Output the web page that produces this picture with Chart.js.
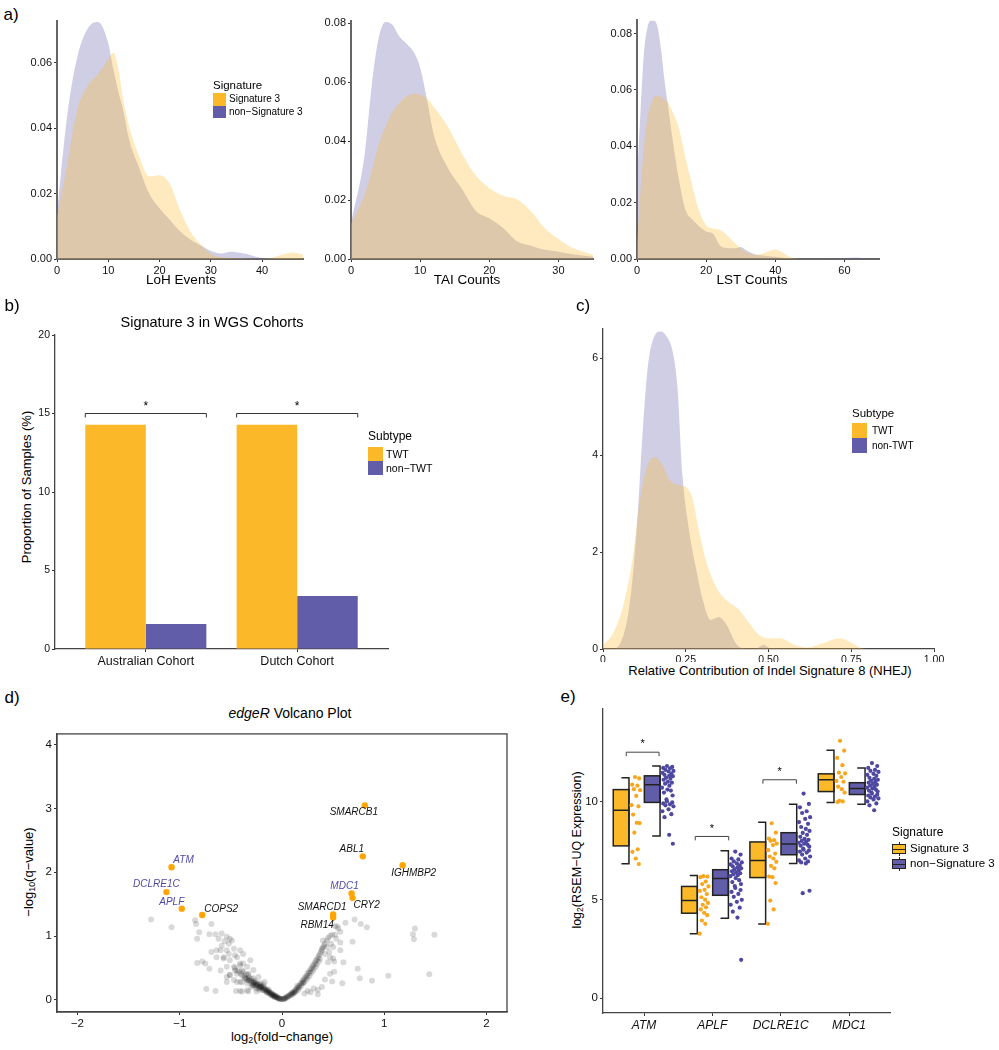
<!DOCTYPE html>
<html>
<head>
<meta charset="utf-8">
<script src="https://cdn.jsdelivr.net/npm/chart.js@4.4.1/dist/chart.umd.min.js"></script>
<style>
body { margin: 0; background: #fff; width: 999px; height: 1050px; position: relative; overflow: hidden; font-family: 'Liberation Sans', Arial, Helvetica, sans-serif; color: #000; }
.t { position: absolute; white-space: nowrap; line-height: 1; }
canvas { position: absolute; }
.sw { position: absolute; }
sub { font-size: 68%; vertical-align: -0.3em; line-height: 0; }
</style>
</head>
<body>
<script>
var FONT = "'Liberation Sans', Arial, Helvetica, sans-serif";
var ORANGE = '#FBB829';
var PURPLE = '#625DA8';
var ORANGE_FILL = 'rgba(251,184,41,0.3)';
var PURPLE_FILL = 'rgba(98,93,168,0.3)';
var DOT_ORANGE = '#F9A61C';
var DOT_PURPLE = '#4E48A2';
var BLUE_TXT = '#4F4AA8';

// ---- a) densities
var lohX = [0, 2, 4, 6, 8, 10, 11, 12, 13, 14, 16, 18, 20, 22, 24, 26, 28, 30, 32, 34, 36, 38, 40, 42, 44, 46, 48];
var lohSig3 = [0.013, 0.029, 0.046, 0.053, 0.0565, 0.061, 0.0632, 0.058, 0.048, 0.041, 0.0315, 0.0252, 0.0256, 0.023, 0.015, 0.0085, 0.0045, 0.0016, 0.0005, 0.0003, 0.0002, 0.0001, 0.0001, 0.0004, 0.0014, 0.002, 0.0014];
var lohNon = [0.014, 0.044, 0.062, 0.0705, 0.0725, 0.066, 0.058, 0.051, 0.045, 0.037, 0.028, 0.02, 0.0155, 0.012, 0.0085, 0.006, 0.0042, 0.0025, 0.0017, 0.0022, 0.0018, 0.0011, 0.0003, 0, 0, 0, 0];

var taiX = [0, 2, 3, 4, 5, 6, 7, 8, 9, 10, 11, 12, 14, 16, 18, 20, 22, 24, 26, 28, 30, 32, 35];
var taiSig3 = [0.012, 0.022, 0.030, 0.039, 0.045, 0.05, 0.053, 0.0552, 0.056, 0.0558, 0.0545, 0.0515, 0.045, 0.036, 0.0285, 0.024, 0.0215, 0.0203, 0.0163, 0.0105, 0.0068, 0.0038, 0.0015];
var taiNon = [0.012, 0.036, 0.059, 0.075, 0.0805, 0.0795, 0.0755, 0.0732, 0.0705, 0.065, 0.054, 0.042, 0.031, 0.024, 0.0165, 0.0138, 0.0105, 0.006, 0.0045, 0.0031, 0.0025, 0.0016, 0.0008];

var lstX = [0, 1, 2, 3, 4, 5, 6, 7, 8, 9, 10, 12, 14, 16, 18, 20, 22, 24, 26, 28, 30, 32, 34, 36, 38, 40, 42, 44, 46, 50, 55, 60, 63, 66, 70];
var lstSig3 = [0.005, 0.024, 0.04, 0.05, 0.055, 0.0575, 0.058, 0.0575, 0.0565, 0.0555, 0.053, 0.047, 0.036, 0.026, 0.017, 0.012, 0.0108, 0.0103, 0.0085, 0.006, 0.0038, 0.0022, 0.0014, 0.0018, 0.0027, 0.0034, 0.0024, 0.0008, 0.0001, 0, 0, 0, 0, 0, 0];
var lstNon = [0.028, 0.052, 0.073, 0.082, 0.0845, 0.0845, 0.082, 0.074, 0.063, 0.054, 0.045, 0.029, 0.0175, 0.014, 0.0115, 0.0098, 0.009, 0.0048, 0.0039, 0.0038, 0.0043, 0.0028, 0.0017, 0.0013, 0.001, 0.0008, 0.0004, 0.0002, 0.0001, 0, 0, 0.0003, 0.0005, 0.0002, 0];

// ---- b) bars
var cohorts = ['Australian Cohort', 'Dutch Cohort'];
var twtPct = [14.29, 14.29];
var nonTwtPct = [1.59, 3.37];

// ---- c) indel signature 8 density
var indelTwtX = [0, 0.03, 0.06, 0.09, 0.11, 0.13, 0.155, 0.18, 0.2, 0.225, 0.25, 0.27, 0.29, 0.31, 0.34, 0.37, 0.41, 0.44, 0.47, 0.5, 0.535, 0.575, 0.615, 0.665, 0.715, 0.745, 0.785, 0.81];
var indelTwtY = [0.08, 0.32, 0.87, 1.9, 3.0, 3.7, 3.96, 3.8, 3.5, 3.38, 3.34, 3.12, 2.44, 1.85, 1.3, 1.02, 0.82, 0.55, 0.3, 0.22, 0.22, 0.1, 0.03, 0.12, 0.22, 0.15, 0.01, 0];
var indelNonX = [0, 0.03, 0.07, 0.09, 0.105, 0.12, 0.135, 0.155, 0.175, 0.195, 0.21, 0.225, 0.24, 0.26, 0.28, 0.3, 0.325, 0.35, 0.375, 0.4, 0.42, 0.46, 0.485, 0.51, 0.55];
var indelNonY = [0, 0, 0.5, 1.5, 2.8, 4.5, 5.8, 6.45, 6.55, 6.42, 6.15, 5.4, 3.6, 2.45, 1.7, 1.05, 0.6, 0.66, 0.48, 0.13, 0.02, 0, 0.09, 0, 0];

// ---- d) volcano
var hlGenes = ['SMARCB1', 'ABL1', 'IGHMBP2', 'ATM', 'DCLRE1C', 'APLF', 'COPS2', 'MDC1', 'CRY2', 'SMARCD1', 'RBM14'];
var hlFC = [0.81, 0.79, 1.18, -1.08, -1.13, -0.98, -0.78, 0.68, 0.69, 0.50, 0.50];
var hlQ = [3.05, 2.25, 2.11, 2.08, 1.69, 1.43, 1.33, 1.67, 1.60, 1.34, 1.29];
var blueGenes = ['ATM', 'DCLRE1C', 'APLF', 'MDC1'];
var greyGenes = [
  [-1.28,1.26],[-1.08,1.14],[-0.85,1.25],[-0.84,1.19],[-0.81,1.06],[-0.83,0.96],[-0.69,1.19],[-0.71,1.03],[-0.65,1.03],[-0.59,1.04],
  [-0.54,0.99],[-0.51,0.96],[-0.69,0.75],[-0.64,0.78],[-0.59,0.85],[-0.52,0.88],[-0.49,0.93],[-0.41,0.78],[-0.46,0.7],[-0.52,0.72],
  [-0.57,0.65],[-0.83,0.58],[-0.78,0.6],[-0.75,0.57],[-0.71,0.49],[-0.74,0.17],[-0.65,0.14],[-0.6,0.46],[-0.54,0.36],[-0.51,0.39],
  [-0.46,0.46],[-0.41,0.54],[-0.39,0.46],[-0.36,0.34],[-0.33,0.39],[-0.44,0.28],[-0.39,0.28],[-0.34,0.26],[-0.29,0.23],[-0.26,0.28],
  [-0.25,0.18],[-0.22,0.16],[-0.21,0.26],[-0.15,0.15],[-0.34,0.15],[-0.45,0.14],[-0.41,0.14],[-0.17,0.28],[-0.38,0.57],[-0.31,0.62],
  [-0.6,0.78],[-0.54,0.78],[-0.47,0.8],[-0.64,0.67],[-0.57,0.67],[-0.51,0.62],[-0.44,0.67],[-0.38,0.72],[-0.54,0.52],[-0.47,0.52],
  [-0.41,0.57],[-0.34,0.52],[-0.51,0.39],[-0.44,0.41],[-0.38,0.44],[-0.33,0.41],[-0.28,0.47],[-0.54,0.28],[-0.47,0.31],[-0.41,0.28],
  [-0.34,0.31],[-0.28,0.34],[-0.23,0.36],[-0.39,0.13],[-0.33,0.13],[-0.25,0.13],[-0.3,0.2],[-0.28,0.23],[-0.21,0.21],[-0.18,0.24],
  [-0.13,0.16],[-0.62,0.96],[-0.56,0.92],
  [-0.46,0.5],[-0.44,0.46],[-0.42,0.44],[-0.4,0.41],[-0.39,0.38],[-0.37,0.37],[-0.36,0.34],[-0.34,0.33],[-0.33,0.3],[-0.31,0.3],
  [-0.3,0.27],[-0.29,0.29],[-0.28,0.25],[-0.27,0.27],[-0.26,0.24],[-0.25,0.25],[-0.24,0.22],[-0.23,0.23],[-0.22,0.2],[-0.21,0.2],
  [-0.2,0.18],[-0.19,0.19],[-0.18,0.16],[-0.17,0.16],[-0.16,0.14],[-0.15,0.13],[-0.14,0.12],[-0.13,0.11],[-0.12,0.1],[-0.11,0.09],
  [-0.1,0.08],[-0.09,0.07],[-0.08,0.06],[-0.07,0.05],[-0.06,0.045],[-0.05,0.04],[-0.04,0.03],[-0.03,0.025],[-0.02,0.02],[-0.01,0.015],
  [0,0.01],[-0.35,0.4],[-0.32,0.35],[-0.3,0.33],[-0.27,0.3],[-0.24,0.26],[-0.22,0.24],[-0.2,0.22],[-0.18,0.2],[-0.16,0.17],
  [-0.14,0.15],[-0.12,0.12],[-0.1,0.1],[-0.08,0.08],[-0.06,0.06],[-0.26,0.21],[-0.23,0.18],[-0.19,0.15],[-0.15,0.11],[-0.11,0.08],
  [-0.13,0.13],[-0.11,0.11],[-0.09,0.09],[-0.07,0.07],[-0.05,0.05],[-0.03,0.03],[-0.02,0.01],[-0.09,0.06],[-0.07,0.04],[-0.04,0.02],
  [-0.2,0.2],[-0.17,0.18],[-0.25,0.23],[-0.28,0.27],[-0.32,0.31],
  [0.01,0.015],[0.02,0.02],[0.03,0.03],[0.04,0.04],[0.05,0.05],[0.06,0.06],[0.07,0.07],[0.08,0.085],[0.09,0.1],[0.1,0.11],
  [0.11,0.12],[0.12,0.14],[0.13,0.15],[0.14,0.17],[0.15,0.19],[0.16,0.2],[0.17,0.22],[0.18,0.25],[0.19,0.27],[0.2,0.3],
  [0.21,0.31],[0.22,0.34],[0.23,0.36],[0.24,0.38],[0.25,0.41],[0.26,0.43],[0.27,0.45],[0.28,0.48],[0.29,0.5],[0.3,0.53],
  [0.31,0.55],[0.32,0.58],[0.33,0.61],[0.34,0.63],[0.35,0.66],[0.36,0.69],[0.37,0.72],[0.38,0.75],[0.39,0.78],[0.4,0.82],
  [0.41,0.85],[0.42,0.88],[0.44,0.93],[0.45,0.97],[0.47,1.0],[0.1,0.08],[0.13,0.12],[0.16,0.16],[0.19,0.22],[0.22,0.28],
  [0.25,0.35],[0.28,0.42],[0.31,0.49],[0.34,0.56],[0.37,0.64],[0.15,0.22],[0.2,0.26],[0.24,0.32],[0.27,0.38],[0.3,0.45],
  [0.33,0.52],[0.36,0.6],
  [0.02,0.01],[0.03,0.02],[0.05,0.035],[0.07,0.055],[0.09,0.08],[0.11,0.1],[0.12,0.11],[0.14,0.14],[0.17,0.19],[0.21,0.27],
  [0.71,1.26],[0.77,1.19],[0.83,1.14],[0.62,1.21],[0.54,1.15],[0.57,1.07],[0.52,1.02],[0.49,1.02],[0.69,0.91],[0.57,0.9],
  [0.57,0.78],[0.6,0.59],[0.74,0.49],[0.76,0.34],[0.88,0.3],[1.04,0.38],[1.44,0.4],[1.3,1.12],[1.28,1.03],[1.29,0.95],
  [1.49,1.02],[0.59,0.26],[0.51,0.44],[0.47,0.41],[0.42,0.32],[0.49,0.29],[0.39,0.2],[0.35,0.16],[0.35,0.09],[0.51,0.6],
  [0.47,0.67],[0.42,0.72],[0.39,0.8],[0.44,0.83],[0.4,0.93],[0.52,1.16],[0.53,0.96],[0.5,0.83],[0.5,0.65],[0.45,0.59],
  [0.31,0.18],[0.28,0.12],[0.22,0.1],[0.25,0.14],[0.55,1.12],[0.48,0.88],[0.46,0.75]
];

// ---- e) expression boxes: [lower whisker, q1, median, q3, upper whisker]
var genes = ['ATM', 'APLF', 'DCLRE1C', 'MDC1'];
var sig3Box = [[6.83, 7.74, 9.55, 10.6, 11.2], [3.27, 4.32, 4.97, 5.68, 6.23], [3.77, 6.13, 7.0, 7.94, 8.94], [9.95, 10.5, 11.1, 11.4, 12.6]];
var nonSig3Box = [[8.24, 9.95, 10.85, 11.3, 11.8], [4.07, 5.23, 6.08, 6.53, 7.49], [6.85, 7.29, 7.84, 8.41, 9.86], [9.85, 10.35, 10.65, 10.95, 11.7]];
var sig3Expr = [
  [11.24, 11.17, 10.85, 10.8, 10.62, 10.57, 10.28, 9.81, 9.75, 9.33, 8.91, 8.9, 8.41, 7.57, 7.44, 7.1, 6.82],
  [6.2, 6.18, 6.15, 5.93, 5.8, 5.68, 5.51, 5.45, 5.29, 5.13, 5.01, 4.84, 4.75, 4.62, 4.51, 4.34, 4.22, 3.95, 3.78, 3.28],
  [8.89, 8.41, 8.11, 8.03, 8.0, 7.86, 7.78, 7.52, 7.35, 7.2, 7.1, 6.93, 6.72, 6.6, 6.18, 6.15, 5.85, 4.96, 4.51, 3.78],
  [13.08, 12.58, 12.21, 11.84, 11.46, 11.42, 11.24, 11.04, 11.0, 10.75, 10.62, 10.45, 10.03, 10.0, 9.97]
];
var nonSig3Expr = [
  [11.8, 11.75, 11.7, 11.68, 11.6, 11.55, 11.52, 11.45, 11.4, 11.35, 11.3, 11.28, 11.2, 11.15, 11.1, 11.0, 10.95, 10.9, 10.8, 10.7, 10.6, 10.55, 10.45, 10.3, 10.1, 10.0, 9.95, 9.9, 9.85, 9.8, 9.75, 9.6, 9.5, 9.35, 9.2, 8.3, 7.85],
  [7.45, 7.3, 7.1, 7.05, 6.95, 6.9, 6.85, 6.8, 6.75, 6.7, 6.65, 6.6, 6.55, 6.5, 6.45, 6.4, 6.35, 6.3, 6.25, 6.2, 6.1, 6.0, 5.9, 5.8, 5.7, 5.6, 5.5, 5.4, 5.3, 5.15, 5.0, 4.9, 4.75, 4.6, 4.4, 4.1, 1.95],
  [10.4, 9.87, 9.7, 9.5, 9.41, 9.2, 9.11, 8.95, 8.86, 8.7, 8.6, 8.5, 8.4, 8.3, 8.2, 8.1, 8.05, 8.0, 7.95, 7.9, 7.85, 7.8, 7.75, 7.7, 7.6, 7.55, 7.5, 7.45, 7.4, 7.3, 7.2, 7.1, 7.0, 6.95, 6.9, 6.85, 5.46, 5.34],
  [11.95, 11.8, 11.7, 11.6, 11.55, 11.5, 11.4, 11.35, 11.3, 11.2, 11.15, 11.1, 11.05, 11.0, 10.95, 10.9, 10.85, 10.8, 10.75, 10.7, 10.65, 10.6, 10.55, 10.5, 10.45, 10.4, 10.35, 10.3, 10.25, 10.2, 10.15, 10.1, 10.0, 9.9, 9.8, 9.55]
];
var jitterFrac = [0.42, 0.85, 0.12, 0.67, 0.3, 0.95, 0.55, 0.05, 0.78, 0.22, 0.6, 0.9, 0.35, 0.7, 0.15, 0.5, 0.82, 0.27, 0.62, 0.02, 0.46, 0.74, 0.18, 0.88, 0.38];

// ---------- helpers
function txt(s, x, y, size, opt) {
  opt = opt || {};
  var d = document.createElement('div');
  d.className = 't';
  d.innerHTML = s;
  d.style.fontSize = size + 'px';
  d.style.left = x + 'px';
  d.style.top = y + 'px';
  if (opt.italic) d.style.fontStyle = 'italic';
  if (opt.color) d.style.color = opt.color;
  var tx = opt.align == 'left' ? '0' : '-50%';
  d.style.transform = 'translate(' + tx + ',-50%)' + (opt.rot ? ' rotate(-90deg)' : '');
  document.body.appendChild(d);
  return d;
}

function swatch(x, y, w, h, color) {
  var d = document.createElement('div');
  d.className = 'sw';
  d.style.cssText = 'left:' + x + 'px;top:' + y + 'px;width:' + w + 'px;height:' + h + 'px;background:' + color;
  document.body.appendChild(d);
}

function boxKey(x, cy, color) {
  var w = document.createElement('div');
  w.className = 'sw';
  w.style.cssText = 'left:' + x + 'px;top:' + (cy - 7) + 'px;width:14px;height:14px';
  w.innerHTML = '<div style="position:absolute;left:6.5px;top:0;width:1.3px;height:14px;background:#222"></div>' +
    '<div style="position:absolute;left:0;top:2px;width:11.5px;height:7.5px;border:1.3px solid #222;background:' + color + '"></div>' +
    '<div style="position:absolute;left:0;top:6.5px;width:14px;height:1.3px;background:#222"></div>';
  document.body.appendChild(w);
}

function panel(L, T, R, B, plot) {
  var c = document.createElement('canvas');
  c.width = R - L;
  c.height = B - T;
  c.style.left = L + 'px';
  c.style.top = T + 'px';
  c.style.width = (R - L) + 'px';
  c.style.height = (B - T) + 'px';
  document.body.appendChild(c);
  return { canvas: c, L: L, T: T, pad: { top: plot.t - T, right: R - plot.r, left: 0, bottom: 0 }, yW: plot.l - L, xH: B - plot.b };
}

function scale(axis, p, o) {
  return {
    type: 'linear', min: o.min, max: o.max, offset: false,
    afterFit: function (s) { if (axis == 'x') s.height = p.xH; else s.width = p.yW; },
    afterBuildTicks: function (s) { if (o.ticksAt) s.ticks = o.ticksAt.map(function (v) { return { value: v }; }); },
    border: { display: true, color: o.lineColor || '#444', width: o.lineWidth || 1.3 },
    grid: { display: true, drawOnChartArea: false, drawTicks: true, tickLength: 3, tickWidth: 1, color: '#333', offset: false },
    ticks: {
      stepSize: o.step, includeBounds: false, autoSkip: false, maxRotation: 0, minRotation: 0, padding: 2, color: '#111',
      font: { family: FONT, size: o.fontSize || 11, style: o.italic ? 'italic' : 'normal' },
      callback: o.cb || function (v) { return '' + v; }
    }
  };
}

function pts(xs, ys) { return xs.map(function (x, i) { return { x: x, y: ys[i] }; }); }

function baseOptions(p, sx, sy) {
  return {
    responsive: false, animation: false, events: [],
    layout: { padding: p.pad },
    plugins: { legend: { display: false }, tooltip: { enabled: false } },
    scales: { x: sx, y: sy }
  };
}

function densityChart(p, xs1, ys1, xs2, ys2, xo, yo) {
  return new Chart(p.canvas, {
    type: 'line',
    data: {
      datasets: [
        { data: pts(xs1, ys1), fill: 'origin', backgroundColor: ORANGE_FILL, borderColor: 'rgba(0,0,0,0)', borderWidth: 0, pointRadius: 0, cubicInterpolationMode: 'monotone' },
        { data: pts(xs2, ys2), fill: 'origin', backgroundColor: PURPLE_FILL, borderColor: 'rgba(0,0,0,0)', borderWidth: 0, pointRadius: 0, cubicInterpolationMode: 'monotone' }
      ]
    },
    options: baseOptions(p, scale('x', p, xo), scale('y', p, yo))
  });
}

function fmt2(v) { return v.toFixed(2); }
function minus(v) { return v < 0 ? '\u2212' + Math.abs(v) : '' + v; }

// ---------- a)
txt('a)', 11, 14, 17);
var pa1 = panel(0, 10, 320, 275, { l: 57, t: 21, r: 303, b: 259 });
densityChart(pa1, lohX, lohSig3, lohX, lohNon,
  { min: 0, max: 48, step: 10, lineColor: '#666', lineWidth: 2 },
  { min: 0, max: 0.0728, step: 0.02, cb: fmt2, lineColor: '#666', lineWidth: 2 });
txt('LoH Events', 181, 280, 13.5);
txt('Signature', 213, 86, 11.5, { align: 'left' });
swatch(213, 93, 13, 13, ORANGE);
swatch(213, 106, 13, 12, PURPLE);
txt('Signature 3', 229, 99, 10, { align: 'left' });
txt('non\u2212Signature 3', 229, 111.5, 10, { align: 'left' });

var pa2 = panel(320, 10, 610, 275, { l: 351, t: 21, r: 593, b: 259 });
densityChart(pa2, taiX, taiSig3, taiX, taiNon,
  { min: 0, max: 35, step: 10, lineColor: '#666', lineWidth: 2 },
  { min: 0, max: 0.0808, step: 0.02, cb: fmt2, lineColor: '#666', lineWidth: 2 });
txt('TAI Counts', 467, 280, 13.5);

var pa3 = panel(610, 10, 900, 275, { l: 637, t: 20, r: 879, b: 259 });
densityChart(pa3, lstX, lstSig3, lstX, lstNon,
  { min: 0, max: 70, step: 20, lineColor: '#666', lineWidth: 2 },
  { min: 0, max: 0.0848, step: 0.02, cb: fmt2, lineColor: '#666', lineWidth: 2 });
txt('LST Counts', 752, 280, 13.5);

// ---------- b)
txt('b)', 12, 305, 17);
txt('Signature 3 in WGS Cohorts', 212, 322, 14.5);
txt('Proportion of Samples (%)', 26, 487, 13, { rot: true });
var sigBracketsB = [[0.6, 1.4], [1.6, 2.4]];
var pb = panel(0, 325, 400, 670, { l: 55, t: 335, r: 388, b: 649 });
new Chart(pb.canvas, {
  type: 'bar',
  data: {
    datasets: [
      { label: 'TWT', data: pts([1, 2], twtPct), backgroundColor: ORANGE, categoryPercentage: 0.8, barPercentage: 1.0 },
      { label: 'non\u2212TWT', data: pts([1, 2], nonTwtPct), backgroundColor: PURPLE, categoryPercentage: 0.8, barPercentage: 1.0 }
    ]
  },
  options: baseOptions(pb,
    scale('x', pb, { min: 0.4, max: 2.6, ticksAt: [1, 2], fontSize: 12.5, cb: function (v) { return cohorts[Math.round(v) - 1]; } }),
    scale('y', pb, { min: 0, max: 20, step: 5, fontSize: 10.5 })),
  plugins: [{
    id: 'bracketsB',
    afterDraw: function (chart) {
      var ctx = chart.ctx, xs = chart.scales.x, ys = chart.scales.y;
      ctx.save();
      ctx.strokeStyle = '#333';
      ctx.lineWidth = 1;
      sigBracketsB.forEach(function (b) {
        var x0 = xs.getPixelForValue(b[0]), x1 = xs.getPixelForValue(b[1]);
        var y = ys.getPixelForValue(15), yl = ys.getPixelForValue(14.75);
        ctx.beginPath();
        ctx.moveTo(x0, yl); ctx.lineTo(x0, y); ctx.lineTo(x1, y); ctx.lineTo(x1, yl);
        ctx.stroke();
        if (!chart.$stars) txt('*', pb.L + (x0 + x1) / 2, pb.T + ys.getPixelForValue(15.45), 12);
      });
      chart.$stars = true;
      ctx.restore();
    }
  }]
});
txt('Subtype', 368, 436, 12, { align: 'left' });
swatch(368, 447, 15, 14, ORANGE);
swatch(368, 461, 15, 14, PURPLE);
txt('TWT', 386, 454, 10.5, { align: 'left' });
txt('non\u2212TWT', 386, 468, 10.5, { align: 'left' });

// ---------- c)
txt('c)', 583, 305, 17);
var pc = panel(580, 320, 950, 662, { l: 603, t: 329, r: 934, b: 649 });
densityChart(pc, indelTwtX, indelTwtY, indelNonX, indelNonY,
  { min: 0, max: 1, step: 0.25, fontSize: 10.5, cb: function (v) { return v == 0 ? '0' : v.toFixed(2); } },
  { min: 0, max: 6.6, step: 2, fontSize: 10.5 });
txt('Relative Contribution of Indel Signature 8 (NHEJ)', 770, 670, 13);
txt('Subtype', 852, 414, 11.5, { align: 'left' });
swatch(852, 423, 15, 15, ORANGE);
swatch(852, 438, 15, 15, PURPLE);
txt('TWT', 872, 431, 10, { align: 'left' });
txt('non-TWT', 872, 446, 10, { align: 'left' });

// ---------- d)
txt('d)', 12, 697, 17);
txt('<i>edgeR</i> Volcano Plot', 290, 713, 14);
txt('\u2212log<sub>10</sub>(q\u2212value)', 28, 872, 13, { rot: true });
txt('log<sub>2</sub>(fold\u2212change)', 282, 1036, 13);
var hlLabelOffset = {
  SMARCB1: [-11, 7], ABL1: [-11, -7], IGHMBP2: [11, 8], ATM: [12, -7], DCLRE1C: [-10, -8], APLF: [-10, -7],
  COPS2: [19, -6], MDC1: [-7, -7], CRY2: [14, 7], SMARCD1: [-11, -7], RBM14: [-16, 7]
};
var pd = panel(0, 725, 520, 1030, { l: 57, t: 731, r: 507, b: 1012 });
new Chart(pd.canvas, {
  type: 'scatter',
  data: {
    datasets: [
      { data: pts(hlFC, hlQ), backgroundColor: '#FFA500', borderWidth: 0, pointRadius: 3.2 },
      { data: greyGenes.map(function (g) { return { x: g[0], y: g[1] }; }), backgroundColor: 'rgba(0,0,0,0.15)', borderWidth: 0, pointRadius: 3 }
    ]
  },
  options: baseOptions(pd,
    scale('x', pd, { min: -2.2, max: 2.2, step: 1, cb: minus, fontSize: 11.5 }),
    scale('y', pd, { min: -0.19, max: 4.17, step: 1, cb: minus, fontSize: 11.5 })),
  plugins: [{
    id: 'frameAndLabels',
    afterDraw: function (chart) {
      var a = chart.chartArea, ctx = chart.ctx;
      ctx.save();
      ctx.strokeStyle = '#444';
      ctx.lineWidth = 1.3;
      ctx.strokeRect(a.left, a.top, a.right - a.left, a.bottom - a.top);
      ctx.restore();
      if (chart.$labelled) return;
      chart.$labelled = true;
      var xs = chart.scales.x, ys = chart.scales.y;
      hlGenes.forEach(function (g, i) {
        var off = hlLabelOffset[g];
        txt(g, pd.L + xs.getPixelForValue(hlFC[i]) + off[0], pd.T + ys.getPixelForValue(hlQ[i]) + off[1], 10,
          { italic: true, color: blueGenes.indexOf(g) >= 0 ? BLUE_TXT : '#111' });
      });
    }
  }]
});

// ---------- e)
txt('e)', 568, 696, 17);
txt('log<sub>2</sub>(RSEM\u2212UQ Expression)', 577, 850, 12.5, { rot: true });
var groupLayout = {
  sig3: { x0: -0.45, x1: -0.22, cap: -0.33, p0: -0.19, pw: 0.14, fill: ORANGE },
  non: { x0: 0.005, x1: 0.235, cap: 0.12, p0: 0.26, pw: 0.18, fill: PURPLE }
};
var sigBracketsE = [[1, -0.26, 0.22, 12.5], [2, -0.25, 0.24, 8.22], [3, -0.26, 0.23, 11.1]];
function jittered(expr, lay) {
  var out = [];
  expr.forEach(function (vals, gi) {
    vals.forEach(function (v, k) {
      out.push({ x: gi + 1 + lay.p0 + jitterFrac[k % jitterFrac.length] * lay.pw, y: v });
    });
  });
  return out;
}
var pe = panel(560, 700, 895, 1035, { l: 603, t: 705, r: 890, b: 1013 });
new Chart(pe.canvas, {
  type: 'scatter',
  data: {
    datasets: [
      { data: jittered(sig3Expr, groupLayout.sig3), backgroundColor: DOT_ORANGE, borderWidth: 0, pointRadius: 2.1 },
      { data: jittered(nonSig3Expr, groupLayout.non), backgroundColor: DOT_PURPLE, borderWidth: 0, pointRadius: 2.1 }
    ]
  },
  options: baseOptions(pe,
    scale('x', pe, { min: 0.4, max: 4.6, ticksAt: [1, 2, 3, 4], italic: true, fontSize: 12, cb: function (v) { return genes[Math.round(v) - 1]; } }),
    scale('y', pe, { min: -0.75, max: 14.7, step: 5, fontSize: 11.5 })),
  plugins: [{
    id: 'boxes',
    beforeDatasetsDraw: function (chart) {
      var ctx = chart.ctx, xs = chart.scales.x, ys = chart.scales.y;
      ctx.save();
      ctx.strokeStyle = '#222';
      ctx.lineWidth = 1.5;
      [[sig3Box, groupLayout.sig3], [nonSig3Box, groupLayout.non]].forEach(function (pair) {
        var lay = pair[1];
        pair[0].forEach(function (s, gi) {
          var c = gi + 1;
          var xa = xs.getPixelForValue(c + lay.x0), xb = xs.getPixelForValue(c + lay.x1), xc = xs.getPixelForValue(c + lay.cap);
          var yLo = ys.getPixelForValue(s[0]), yQ1 = ys.getPixelForValue(s[1]), yMed = ys.getPixelForValue(s[2]);
          var yQ3 = ys.getPixelForValue(s[3]), yHi = ys.getPixelForValue(s[4]);
          ctx.fillStyle = lay.fill;
          ctx.fillRect(xa, yQ3, xb - xa, yQ1 - yQ3);
          ctx.strokeRect(xa, yQ3, xb - xa, yQ1 - yQ3);
          ctx.beginPath();
          ctx.moveTo(xa, yMed); ctx.lineTo(xb, yMed);
          ctx.moveTo(xc, yHi); ctx.lineTo(xb, yHi); ctx.lineTo(xb, yLo); ctx.lineTo(xc, yLo);
          ctx.stroke();
        });
      });
      ctx.strokeStyle = '#444';
      ctx.lineWidth = 1;
      sigBracketsE.forEach(function (b) {
        var x0 = xs.getPixelForValue(b[0] + b[1]), x1 = xs.getPixelForValue(b[0] + b[2]);
        var y = ys.getPixelForValue(b[3]), yl = ys.getPixelForValue(b[3] - 0.2);
        ctx.beginPath();
        ctx.moveTo(x0, yl); ctx.lineTo(x0, y); ctx.lineTo(x1, y); ctx.lineTo(x1, yl);
        ctx.stroke();
        if (!chart.$stars) txt('*', pe.L + (x0 + x1) / 2, pe.T + ys.getPixelForValue(b[3] + 0.45), 11);
      });
      chart.$stars = true;
      ctx.restore();
    }
  }]
});
txt('Signature', 892, 832, 12, { align: 'left' });
boxKey(892, 849, ORANGE);
boxKey(892, 864, PURPLE);
txt('Signature 3', 910, 849, 11.5, { align: 'left' });
txt('non\u2212Signature 3', 910, 864, 11.5, { align: 'left' });
</script>
</body>
</html>
